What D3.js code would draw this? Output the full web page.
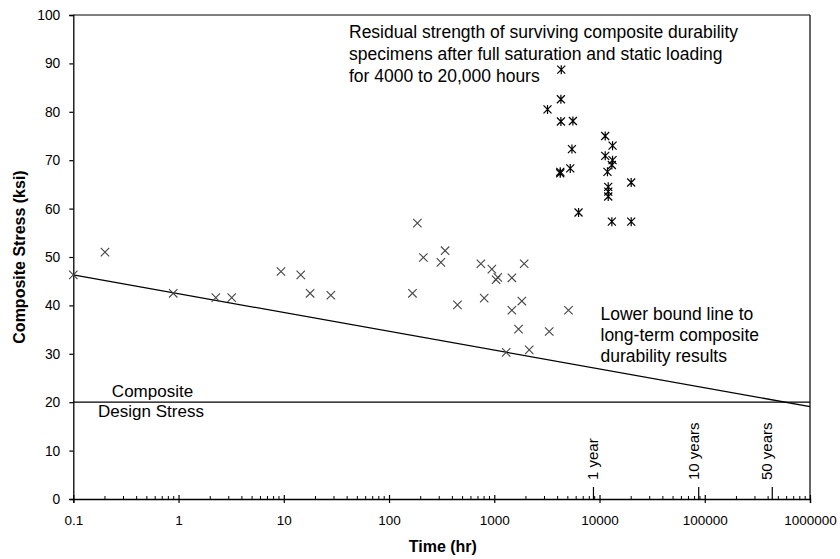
<!DOCTYPE html>
<html><head><meta charset="utf-8">
<script src="https://cdn.jsdelivr.net/npm/d3@7"></script>
<style>
body{margin:0;background:#fff;}
text{font-family:"Liberation Sans",Arial,sans-serif;fill:#000;}
</style></head>
<body><svg id="c" width="840" height="559"></svg>
<script>
// Data (time in hours, stress in ksi)
const durTime   = [0.1,0.2,0.89,2.26,3.2,9.4,14.5,17.8,28,167,186,212,311,341,447,746,802,949,1040,1080,1470,1923,1828,1470,1700,1298,2148,3327,5070];
const durStress = [46.3,51.0,42.5,41.6,41.6,47.0,46.3,42.5,42.1,42.5,57.0,49.9,48.9,51.3,40.1,48.6,41.5,47.5,45.3,45.8,45.7,48.6,40.9,39.0,35.1,30.3,30.8,34.6,39.0];
const resTime   = [4330,3206,4296,4296,5585,5470,4236,4236,5270,6324,11325,13300,11325,13300,13100,11900,12100,12100,12100,13100,20000,20000];
const resStress = [88.7,80.5,82.6,78.0,78.1,72.3,67.3,67.6,68.3,59.2,75.0,73.0,70.9,70.0,69.0,67.6,64.5,63.5,62.5,57.3,65.4,57.3];
const boundTime = [0.1,1000000];
const boundStress = [46.3,19.1];
const designStress = 20;
const yearTimes = [8760,87600,438000];
const yearLabels = ["1 year","10 years","50 years"];
const xTicks = [0.1,1,10,100,1000,10000,100000,1000000];
const xTickLabels = ["0.1","1","10","100","1000","10000","100000","1000000"];
const yTicks = [0,10,20,30,40,50,60,70,80,90,100];

const svg = d3.select("#c");
const L=73.3, R=810, T=15, B=499;
const x = d3.scaleLog().domain([0.1,1000000]).range([L,R]);
const y = d3.scaleLinear().domain([0,100]).range([B,T]);
const ink="#000";

// frame (top & right)
svg.append("line").attr("x1",L).attr("x2",R).attr("y1",T).attr("y2",T).attr("stroke",ink).attr("stroke-width",1.2);
svg.append("line").attr("x1",R).attr("x2",R).attr("y1",T).attr("y2",B).attr("stroke",ink).attr("stroke-width",1.2);

// y axis
const ya = svg.append("g").attr("transform",`translate(${L},0)`)
  .call(d3.axisLeft(y).tickValues(yTicks).tickSize(4).tickPadding(9));
ya.select(".domain").attr("stroke",ink).attr("stroke-width",1.3);
ya.selectAll(".tick line").attr("stroke",ink).attr("stroke-width",1.2);
ya.selectAll(".tick text").style("font-size","13.8px").style("font-family","Liberation Sans, Arial, sans-serif").attr("fill","#222");

// x axis
const minor=[];
for(let d=0.1; d<1000000; d*=10){ for(let k=2;k<=9;k++) minor.push(d*k); }
const xa = svg.append("g").attr("transform",`translate(0,${B})`)
  .call(d3.axisBottom(x).tickValues(xTicks).tickFormat((d,i)=>xTickLabels[i]).tickSize(4).tickPadding(12));
xa.select(".domain").attr("stroke",ink).attr("stroke-width",1.3);
xa.selectAll(".tick line").attr("stroke",ink).attr("stroke-width",1.2).attr("y1",-4);
xa.selectAll(".tick text").style("font-size","13.5px").style("font-family","Liberation Sans, Arial, sans-serif").attr("fill","#222");
svg.append("g").selectAll("line").data(minor).join("line")
  .attr("x1",d=>x(d)).attr("x2",d=>x(d)).attr("y1",B).attr("y2",B-3)
  .attr("stroke",ink).attr("stroke-width",1);

// year markers
svg.append("g").selectAll("line").data(yearTimes).join("line")
  .attr("x1",d=>x(d)).attr("x2",d=>x(d)).attr("y1",B).attr("y2",B-12)
  .attr("stroke",ink).attr("stroke-width",1.2);
svg.append("g").selectAll("text").data(yearTimes).join("text")
  .attr("transform",(d,i)=>`translate(${x(d)+(i===0?5:0)},480) rotate(-90)`)
  .style("font-size","15px").attr("fill","#222").text((d,i)=>yearLabels[i]);

// lines
const line = d3.line().x(d=>x(d[0])).y(d=>y(d[1]));
svg.append("path").datum(boundTime.map((t,i)=>[t,boundStress[i]])).attr("d",line)
  .attr("fill","none").attr("stroke",ink).attr("stroke-width",1.3);
svg.append("path").datum([[0.1,designStress],[1000000,designStress]]).attr("d",line)
  .attr("fill","none").attr("stroke",ink).attr("stroke-width",1.3);

// cross markers
const s=4.2;
svg.append("g").selectAll("path").data(durTime.map((t,i)=>[t,durStress[i]])).join("path")
  .attr("d",d=>{const cx=x(d[0]),cy=y(d[1]);return `M${cx-s},${cy-s}L${cx+s},${cy+s}M${cx-s},${cy+s}L${cx+s},${cy-s}`;})
  .attr("stroke","#444").attr("stroke-width",1.1).attr("fill","none");
// asterisk markers
const a=4;
svg.append("g").selectAll("path").data(resTime.map((t,i)=>[t,resStress[i]])).join("path")
  .attr("d",d=>{const cx=x(d[0]),cy=y(d[1]);return `M${cx-a},${cy-a}L${cx+a},${cy+a}M${cx-a},${cy+a}L${cx+a},${cy-a}M${cx},${cy-a-0.5}L${cx},${cy+a+0.5}`;})
  .attr("stroke","#000").attr("stroke-width",1.2).attr("fill","none");

// annotations
const ann1=["Residual strength of surviving composite durability","specimens after full saturation and static loading","for 4000 to 20,000 hours"];
svg.append("g").selectAll("text").data(ann1).join("text")
  .attr("x",349).attr("y",(d,i)=>37.5+i*22).style("font-size","17.5px").text(d=>d);
const ann2=["Lower bound line to","long-term composite","durability results"];
svg.append("g").selectAll("text").data(ann2).join("text")
  .attr("x",600.5).attr("y",(d,i)=>320+i*21).style("font-size","17.5px").text(d=>d);
svg.append("text").attr("x",152.5).attr("y",396.5).attr("text-anchor","middle").style("font-size","17px").text("Composite");
svg.append("text").attr("x",151).attr("y",416.5).attr("text-anchor","middle").style("font-size","17px").text("Design Stress");

// axis titles
svg.append("text").attr("x",442.8).attr("y",552).attr("text-anchor","middle")
  .style("font-size","16px").style("font-weight","bold").text("Time (hr)");
svg.append("text").attr("transform",`translate(25,257) rotate(-90)`).attr("text-anchor","middle")
  .style("font-size","16px").style("font-weight","bold").text("Composite Stress (ksi)");
</script></body></html>
